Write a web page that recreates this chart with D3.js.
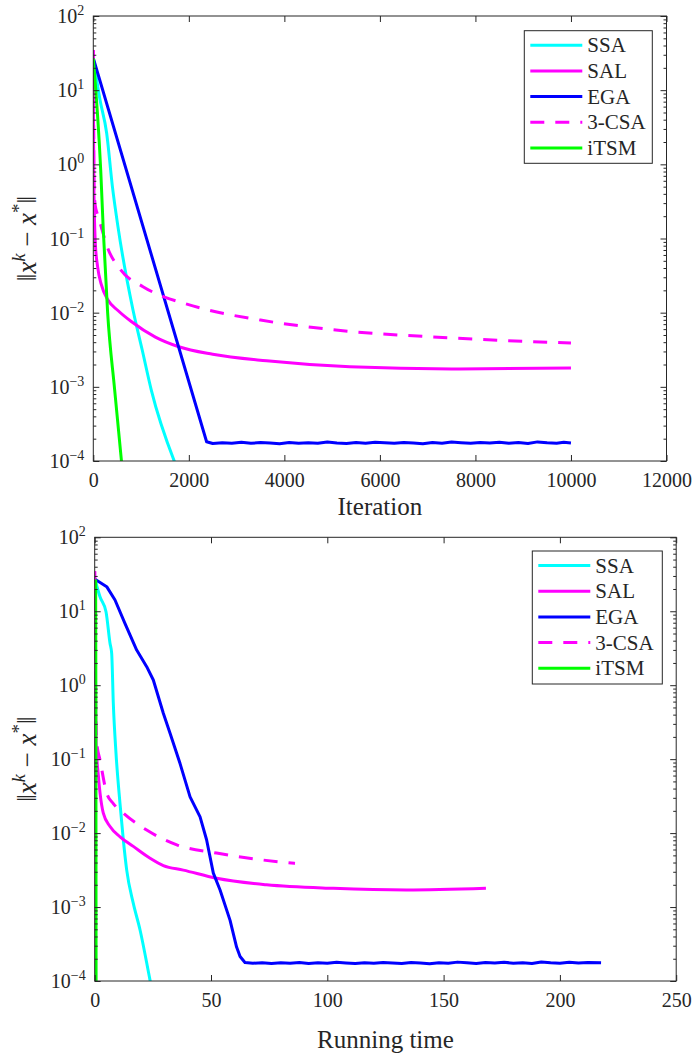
<!DOCTYPE html>
<html><head><meta charset="utf-8">
<script src="https://cdn.jsdelivr.net/npm/d3@7"></script>
<style>
body{margin:0;background:#fff}
svg text{font-family:"Liberation Serif","DejaVu Serif",serif !important;fill:#262626}
</style>
</head><body><script>
// ---------- data ----------
const seriesNames = ["SSA", "SAL", "EGA", "3-CSA", "iTSM"];
const seriesColors = ["#00ffff", "#ff00ff", "#0000ff", "#ff00ff", "#00ff00"];
const seriesDashed = [false, false, false, true, false];
const seriesSmooth = [true, true, false, true, true];

const iterTicks = [0, 2000, 4000, 6000, 8000, 10000, 12000];
const timeTicks = [0, 50, 100, 150, 200, 250];
const yMajorTicks = [1e-4, 1e-3, 1e-2, 1e-1, 1e0, 1e1, 1e2];
const yTickExponents = ["−4", "−3", "−2", "−1", "0", "1", "2"];

// ---- panel 1: error vs iteration ----
const iterSSA = [[0,26.9],[140,7.41],[280,2.63],[400,0.501],[516,0.1445],[830,0.01096],[1023,0.00316],[1213,0.000912],[1736,0.0000851]];
const iterSAL = [[0,34.7],[5,3.16],[12,0.5],[20,0.251],[42,0.0871],[90,0.0417],[167,0.024],[307,0.0148],[516,0.0107],[795,0.00759],[1300,0.00468],[1790,0.00347],[2500,0.00275],[3627,0.00224],[5370,0.00186],[7500,0.00174],[10000,0.0018]];
const iterEGA = [[0,26.9],[2372,0.000182],[2500,0.000172],[2700,0.000176],[2900,0.000174],[3100,0.000179],[3300,0.000173],[3500,0.000177],[3700,0.000175],[3900,0.000171],[4100,0.000178],[4300,0.000174],[4500,0.000176],[4700,0.000173],[4900,0.00018],[5100,0.000175],[5300,0.000172],[5500,0.000177],[5700,0.000174],[5900,0.000179],[6100,0.000176],[6300,0.000173],[6500,0.000178],[6700,0.000175],[6900,0.000171],[7100,0.000177],[7300,0.000174],[7500,0.00018],[7700,0.000176],[7900,0.000173],[8100,0.000178],[8300,0.000175],[8500,0.000179],[8700,0.000174],[8900,0.000177],[9100,0.000172],[9300,0.000181],[9500,0.000176],[9700,0.000174],[9850,0.000179],[10000,0.000175]];
const iterCSA3 = [[0,34.7],[8,3.16],[15,0.5],[40,0.282],[100,0.2],[147,0.158],[285,0.0794],[570,0.038],[1040,0.0224],[1493,0.0162],[1876,0.0135],[2372,0.011],[3500,0.00794],[5020,0.00589],[7500,0.00457],[10000,0.00389]];
const iterITSM = [[0,26.9],[155,0.841],[210,0.126],[300,0.01],[447,0.000912],[600,0.0000851]];

// ---- panel 2: error vs running time ----
const timeSSA = [[0.13,27.0],[2.28,15.7],[4.86,9.86],[6.58,3.69],[7.3,2.69],[8.0,0.569],[9.16,0.12],[10.88,0.0251],[12.3,0.00813],[13.76,0.00316],[16.6,0.00112],[19.5,0.00049],[23.8,0.000102],[24.5,0.000079]];
const timeSAL = [[0,34.7],[0.3,1],[0.6,0.158],[1.5,0.063],[2.3,0.0347],[3.7,0.0186],[6.6,0.0123],[10.9,0.00891],[16.6,0.00661],[23.8,0.00457],[29.5,0.00363],[38.1,0.00316],[52.4,0.00245],[73.9,0.002],[102.6,0.00179],[134,0.0017],[168.2,0.00179]];
const timeEGA = [[0.13,27.0],[5.16,21.5],[8.73,14.2],[13.0,6.87],[18.05,2.99],[22.35,1.78],[25.2,1.175],[29.5,0.417],[32.4,0.224],[36.7,0.0871],[41.0,0.0309],[45.3,0.0166],[48.1,0.00813],[51.0,0.00288],[53.9,0.0017],[58.2,0.000661],[61.0,0.000288],[62.5,0.000214],[64.6,0.000178],[68,0.000174],[72,0.000177],[76,0.000173],[80,0.000176],[84,0.000174],[88,0.000178],[92,0.000172],[96,0.000176],[100,0.000174],[104,0.000179],[108,0.000175],[112,0.000172],[116,0.000177],[120,0.000174],[124,0.000178],[128,0.000175],[132,0.000173],[136,0.000178],[140,0.000175],[144,0.000171],[148,0.000177],[152,0.000174],[156,0.00018],[160,0.000176],[164,0.000173],[168,0.000178],[172,0.000175],[176,0.000179],[180,0.000174],[184,0.000177],[188,0.000172],[192,0.000181],[196,0.000176],[200,0.000174],[204,0.000179],[208,0.000175],[212,0.000178],[217.7,0.000176]];
const timeCSA3 = [[0,34.7],[0.3,1],[0.6,0.251],[1.0,0.158],[2.28,0.0977],[5.16,0.0347],[8,0.0251],[12.3,0.0186],[22.35,0.011],[35.3,0.00692],[52.4,0.00537],[71.1,0.00437],[86.1,0.00389]];
const timeITSM = [[0.4,26.9],[0.5,1],[0.6,0.00008]];

// ---------- drawing ----------
const W = 693, H = 1059;
const svg = d3.select("body").append("svg").attr("width", W).attr("height", H);
const axisColor = "#262626";
const dashPattern = "14,11";

function drawPanel(cfg) {
  const g = svg.append("g");
  const x = d3.scaleLinear().domain(cfg.xDomain).range([cfg.left, cfg.right]);
  const y = d3.scaleLog().domain([1e-4, 1e2]).range([cfg.bottom, cfg.top]);

  const clipId = "clip" + cfg.id;
  svg.append("clipPath").attr("id", clipId).append("rect")
    .attr("x", cfg.left).attr("y", cfg.top)
    .attr("width", cfg.right - cfg.left).attr("height", cfg.bottom - cfg.top);

  const lineLin = d3.line().x(d => x(d[0])).y(d => y(d[1]));
  const lineSm = d3.line().x(d => x(d[0])).y(d => y(d[1])).curve(d3.curveMonotoneX);
  const lg = g.append("g").attr("clip-path", `url(#${clipId})`);
  cfg.series.forEach((s, i) => {
    lg.append("path").datum(s)
      .attr("fill", "none")
      .attr("stroke", seriesColors[i])
      .attr("stroke-width", 3)
      .attr("stroke-linejoin", "round")
      .attr("stroke-dasharray", seriesDashed[i] ? dashPattern : null)
      .attr("d", seriesSmooth[i] ? lineSm : lineLin);
  });

  const minor = [];
  for (let e = -4; e < 2; e++) for (let m = 2; m <= 9; m++) minor.push(m * Math.pow(10, e));

  const styleAxis = sel => {
    sel.select(".domain").remove();
    sel.selectAll("line").attr("stroke", axisColor);
    sel.attr("font-family", null).attr("font-size", null);
  };

  const xb = g.append("g").attr("transform", `translate(0,${cfg.bottom})`)
    .call(d3.axisBottom(x).tickValues(cfg.xTicks).tickFormat(d3.format("d")).tickSize(-6).tickPadding(12).tickSizeOuter(0));
  styleAxis(xb);
  xb.selectAll("text").attr("font-size", 20).attr("fill", axisColor);
  const xt = g.append("g").attr("transform", `translate(0,${cfg.top})`)
    .call(d3.axisTop(x).tickValues(cfg.xTicks).tickFormat("").tickSize(-6).tickSizeOuter(0));
  styleAxis(xt);

  const yl = g.append("g").attr("transform", `translate(${cfg.left},0)`)
    .call(d3.axisLeft(y).tickValues(yMajorTicks).tickFormat("").tickSize(-6).tickSizeOuter(0));
  styleAxis(yl);
  const ylm = g.append("g").attr("transform", `translate(${cfg.left},0)`)
    .call(d3.axisLeft(y).tickValues(minor).tickFormat("").tickSize(-3).tickSizeOuter(0));
  styleAxis(ylm);
  const yr = g.append("g").attr("transform", `translate(${cfg.right},0)`)
    .call(d3.axisRight(y).tickValues(yMajorTicks).tickFormat("").tickSize(-6).tickSizeOuter(0));
  styleAxis(yr);
  const yrm = g.append("g").attr("transform", `translate(${cfg.right},0)`)
    .call(d3.axisRight(y).tickValues(minor).tickFormat("").tickSize(-3).tickSizeOuter(0));
  styleAxis(yrm);

  yMajorTicks.forEach((v, i) => {
    const t = g.append("text")
      .attr("x", cfg.left - 9).attr("y", y(v) + 7)
      .attr("text-anchor", "end").attr("font-size", 20);
    t.append("tspan").text("10");
    t.append("tspan").attr("dy", -8).attr("font-size", 14).text(yTickExponents[i]);
  });

  g.append("rect").attr("x", cfg.left).attr("y", cfg.top)
    .attr("width", cfg.right - cfg.left).attr("height", cfg.bottom - cfg.top)
    .attr("fill", "none").attr("stroke", axisColor).attr("stroke-width", 1);

  g.append("text").attr("x", (cfg.left + cfg.right) / 2).attr("y", cfg.xLabelY)
    .attr("text-anchor", "middle").attr("font-size", 25).text(cfg.xLabel);

  const cy = (cfg.top + cfg.bottom) / 2;
  const yt = g.append("text").attr("transform", `translate(36,${cy}) rotate(-90)`)
    .attr("text-anchor", "middle").attr("font-size", 27);
  yt.append("tspan").text("‖");
  yt.append("tspan").attr("font-style", "italic").text("x");
  yt.append("tspan").attr("dy", -11).attr("font-size", 18).attr("font-style", "italic").text("k");
  yt.append("tspan").attr("dy", 11).text(" − ");
  yt.append("tspan").attr("font-style", "italic").text("x");
  yt.append("tspan").attr("dy", -11).attr("font-size", 19).text("*");
  yt.append("tspan").attr("dy", 11).text("‖");

  const L = cfg.legend;
  const leg = g.append("g");
  leg.append("rect").attr("x", L.x).attr("y", L.y).attr("width", L.w).attr("height", L.h)
    .attr("fill", "#fff").attr("stroke", axisColor).attr("stroke-width", 1);
  seriesNames.forEach((name, i) => {
    const cyE = L.y + 14.5 + i * 25.7;
    leg.append("line").attr("x1", L.x + 6).attr("x2", L.x + 58)
      .attr("y1", cyE).attr("y2", cyE)
      .attr("stroke", seriesColors[i]).attr("stroke-width", 3)
      .attr("stroke-dasharray", seriesDashed[i] ? dashPattern : null);
    leg.append("text").attr("x", L.x + 63).attr("y", cyE + 7)
      .attr("font-size", 21).text(name);
  });
}

drawPanel({
  id: 1, left: 93.3, right: 666.5, top: 16, bottom: 461,
  xDomain: [0, 12000], xTicks: iterTicks, xLabel: "Iteration", xLabelY: 515,
  series: [iterSSA, iterSAL, iterEGA, iterCSA3, iterITSM],
  legend: {x: 524.3, y: 30.7, w: 128, h: 132.6}
});
drawPanel({
  id: 2, left: 94.7, right: 676.2, top: 537.3, bottom: 981,
  xDomain: [0, 250], xTicks: timeTicks, xLabel: "Running time", xLabelY: 1048,
  series: [timeSSA, timeSAL, timeEGA, timeCSA3, timeITSM],
  legend: {x: 532.3, y: 551, w: 130, h: 133}
});
</script></body></html>
